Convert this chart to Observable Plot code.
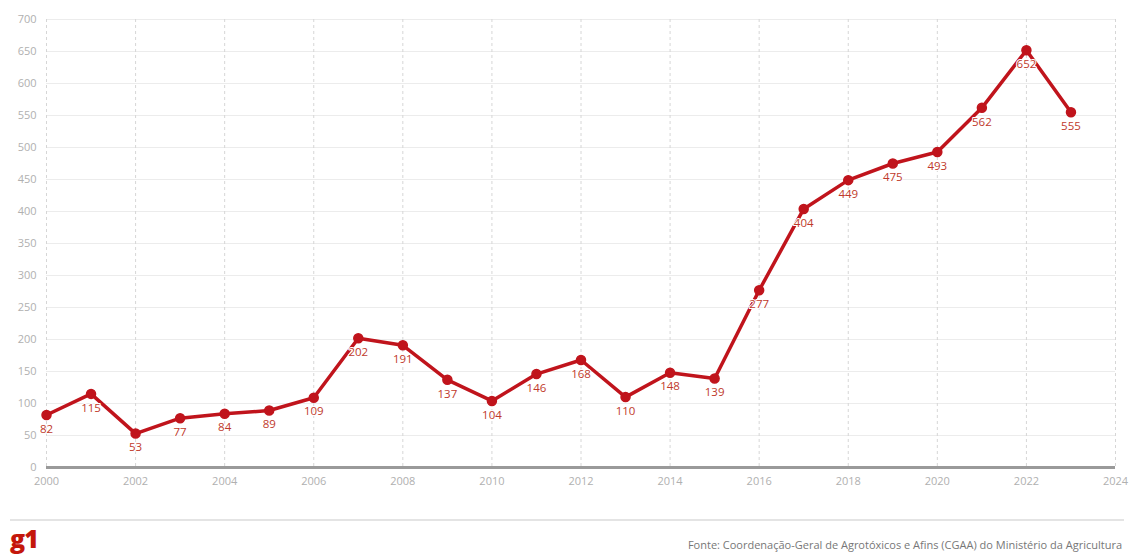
<!DOCTYPE html>
<html>
<head>
<meta charset="utf-8">
<script src="https://cdn.jsdelivr.net/npm/d3@7"></script>
<script src="https://cdn.jsdelivr.net/npm/@observablehq/plot@0.6"></script>
<style>
  html, body { margin: 0; padding: 0; background: #fff; }
  body { width: 1136px; height: 555px; overflow: hidden; font-family: "Open Sans", sans-serif; }
  #footer { position: relative; height: 55px; }
  #rule { position: absolute; left: 10px; right: 12px; top: 19px; border-top: 2px solid #e4e4e4; }
  #logo { position: absolute; left: 10px; top: 24px; color: #c4170c; font-weight: 800; font-size: 25px; letter-spacing: -1px; line-height: 28px; font-family: "Open Sans", sans-serif; }
  #source { position: absolute; right: 14px; top: 37px; color: #777; font-size: 11px; }
</style>
</head>
<body>
<div id="chart"></div>
<div id="footer">
  <div id="rule"></div>
  <div id="logo">g1</div>
  <div id="source">Fonte: Coordenação-Geral de Agrotóxicos e Afins (CGAA) do Ministério da Agricultura</div>
</div>
<script>
const years = [2000,2001,2002,2003,2004,2005,2006,2007,2008,2009,2010,2011,2012,2013,2014,2015,2016,2017,2018,2019,2020,2021,2022,2023];
const values = [82,115,53,77,84,89,109,202,191,137,104,146,168,110,148,139,277,404,449,475,493,562,652,555];
const xTicks = [2000,2002,2004,2006,2008,2010,2012,2014,2016,2018,2020,2022,2024];
const yTicks = [0,50,100,150,200,250,300,350,400,450,500,550,600,650,700];

const data = years.map((y, i) => ({year: y, value: values[i]}));
const red = "#c0141c";

const chart = Plot.plot({
  width: 1136,
  height: 500,
  marginLeft: 46,
  marginRight: 21,
  marginTop: 19,
  marginBottom: 33,
  style: {fontFamily: "Open Sans, sans-serif", fontSize: "11px", color: "#aaa", background: "#fff"},
  x: {domain: [2000, 2024], ticks: xTicks, tickFormat: d => String(d), tickSize: 0, tickPadding: 10, label: null},
  y: {domain: [0, 700], ticks: yTicks, tickSize: 0, tickPadding: 10, label: null},
  marks: [
    Plot.ruleY(yTicks.filter(d => d > 0), {stroke: "#ececec", strokeWidth: 1}),
    Plot.ruleX(xTicks, {stroke: "#d6d6d6", strokeWidth: 1, strokeDasharray: "3,3"}),
    Plot.ruleY([0], {stroke: "#9a9a9a", strokeWidth: 3}),
    Plot.axisX({ticks: xTicks, tickFormat: d => String(d), tickSize: 0, tickPadding: 10, fill: "#b0b0b0", fontSize: 11}),
    Plot.axisY({ticks: yTicks, tickSize: 0, tickPadding: 10, fill: "#b0b0b0", fontSize: 11}),
    Plot.line(data, {x: "year", y: "value", stroke: red, strokeWidth: 3.5, strokeLinejoin: "round"}),
    Plot.dot(data, {x: "year", y: "value", r: 4.5, fill: red, stroke: red}),
    Plot.text(data, {x: "year", y: "value", text: d => String(d.value), dy: 14, fill: "#c0392b", fontSize: 11.5, stroke: "white", strokeWidth: 2, paintOrder: "stroke"})
  ]
});
document.getElementById("chart").appendChild(chart);
</script>
</body>
</html>
